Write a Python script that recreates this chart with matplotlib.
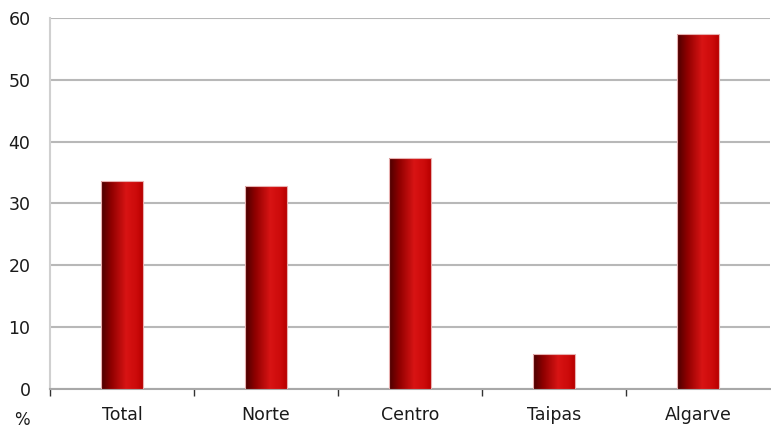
import numpy as np
import matplotlib
matplotlib.use("Agg")
import matplotlib.pyplot as plt
from matplotlib.colors import LinearSegmentedColormap
from matplotlib.patches import Rectangle

categories = ["Total", "Norte", "Centro", "Taipas", "Algarve"]
values = [33.6, 32.9, 37.4, 5.7, 57.4]
yticks = [0, 10, 20, 30, 40, 50, 60]

plt.rcParams['font.family'] = ['DejaVu Sans']

fig = plt.figure(figsize=(7.71, 4.29), dpi=100)
ax = fig.add_axes([50/771, 40/429, 720/771, 371/429])

# cylinder-like shading of the bars
shade = LinearSegmentedColormap.from_list(
    "shade", [(0.0, "#4a0000"), (0.25, "#900000"), (0.6, "#d81414"),
              (0.85, "#cc0a0a"), (1.0, "#b80000")])
grad = np.linspace(0, 1, 256).reshape(1, -1)

width = 0.285
for i, v in enumerate(values):
    x0 = i - width/2
    im = ax.imshow(grad, cmap=shade, aspect="auto",
                   extent=[x0, x0 + width, 0, v], zorder=3)
    rect = Rectangle((x0, 0), width, v, facecolor="none",
                     edgecolor="#e8b0b0", linewidth=0.8, zorder=4)
    ax.add_patch(rect)
    im.set_clip_path(rect)

ax.set_xlim(-0.5, len(categories) - 0.5)
ax.set_ylim(0, 60)
ax.set_yticks(yticks)
ax.set_xticks(range(len(categories)))
ax.set_xticklabels(categories)
ax.set_xticks(np.arange(-0.5, len(categories) - 1, 1.0), minor=True)
ax.tick_params(axis="x", which="major", length=0, pad=12, labelsize=12.5, colors="#1a1a1a")
ax.tick_params(axis="x", which="minor", length=5, width=1, color="#333333")
ax.tick_params(axis="y", length=0, pad=14, labelsize=12.5, colors="#1a1a1a")

ax.grid(axis="y", color="#b8b8b8", linewidth=1.5, zorder=0)
ax.set_axisbelow(True)
for s in ["top", "right"]:
    ax.spines[s].set_visible(False)
ax.spines["left"].set_color("#d0d0d0")
ax.spines["left"].set_linewidth(1.5)
ax.spines["bottom"].set_color("#a8a8a8")
ax.spines["bottom"].set_linewidth(1.5)

fig.text(22/771, 1 - 425/429, "%", fontsize=12, color="#1a1a1a",
         ha="center", va="baseline")

fig.savefig("out.png", dpi=100)
